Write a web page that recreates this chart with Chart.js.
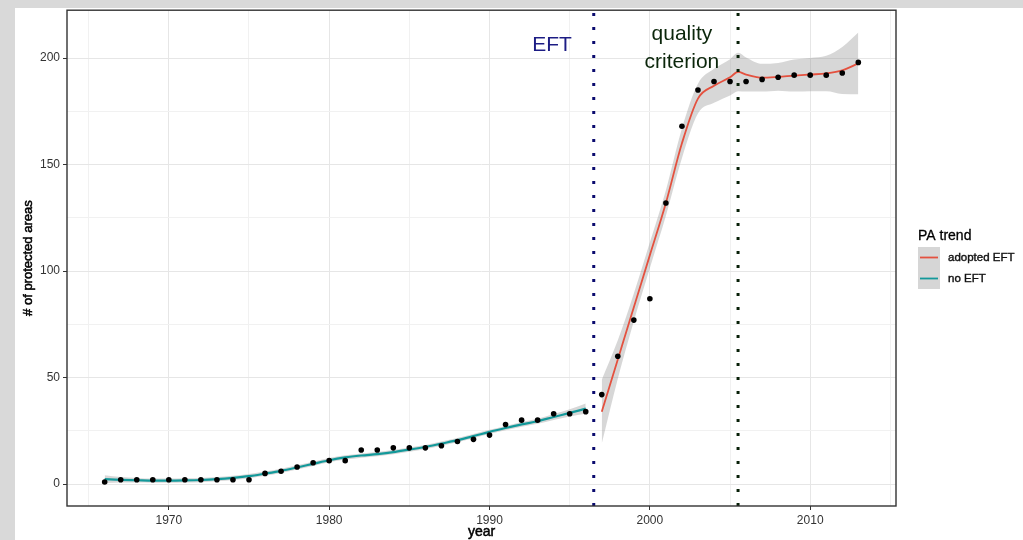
<!DOCTYPE html>
<html>
<head>
<meta charset="utf-8">
<script src="https://cdn.jsdelivr.net/npm/chart.js@4.4.1/dist/chart.umd.min.js"></script>
<style>
  html, body { margin: 0; padding: 0; background: #fff; overflow: hidden; }
  #wrap { width: 1023px; height: 540px; }
</style>
</head>
<body>
<div id="wrap"><canvas id="paChart" width="1023" height="540"></canvas></div>
<script>
// observed counts per year
const years = [1966, 1967, 1968, 1969, 1970, 1971, 1972, 1973, 1974, 1975,
  1976, 1977, 1978, 1979, 1980, 1981, 1982, 1983, 1984, 1985,
  1986, 1987, 1988, 1989, 1990, 1991, 1992, 1993, 1994, 1995,
  1996, 1997, 1998, 1999, 2000, 2001, 2002, 2003, 2004, 2005,
  2006, 2007, 2008, 2009, 2010, 2011, 2012, 2013];
const protectedAreas = [1, 2, 2, 2, 2, 2, 2, 2, 2, 2,
  5, 6, 8, 10, 11, 11, 16, 16, 17, 17,
  17, 18, 20, 21, 23, 28, 30, 30, 33, 33,
  34, 42, 60, 77, 87, 132, 168, 185, 189, 189,
  189, 190, 191, 192, 192, 192, 193, 198];

// smoothed trend before EFT
const noEftYears = [1966, 1967, 1968, 1969, 1970, 1971, 1972, 1973, 1974, 1975,
  1976, 1977, 1978, 1979, 1980, 1981, 1982, 1983, 1984, 1985,
  1986, 1987, 1988, 1989, 1990, 1991, 1992, 1993, 1994, 1995, 1996];
const noEftFit = [2.3, 2.0, 1.8, 1.6, 1.6, 1.7, 1.9, 2.3, 2.9, 3.7,
  4.9, 6.2, 7.8, 9.5, 11.2, 12.5, 13.4, 14.1, 15.0, 16.2,
  17.4, 19.0, 20.6, 22.5, 24.5, 26.3, 28.0, 29.5, 31.5, 33.4, 35.4];
const noEftSe = [1.8, 1.3, 1.1, 1.0, 1.0, 1.0, 1.0, 1.0, 1.0, 1.0,
  1.0, 1.0, 1.0, 1.0, 1.0, 1.0, 1.0, 1.0, 1.0, 1.0,
  1.0, 1.0, 1.0, 1.0, 1.0, 1.0, 1.1, 1.2, 1.4, 1.7, 2.4];

// smoothed trend after EFT
const adoptedYears = [1997, 1998, 1999, 2000, 2001, 2002, 2003, 2004, 2005, 2005.5,
  2006, 2007, 2008, 2009, 2010, 2011, 2012, 2013];
const adoptedFit = [34, 58.5, 83, 107.5, 132, 160, 181, 187, 191, 193.5,
  192.3, 190.8, 191.2, 191.8, 192.3, 192.8, 194.2, 197.5];
const adoptedSe = [15, 9, 6.5, 6, 6, 7, 7, 8, 8.5, 9,
  8, 6.5, 6.5, 7.5, 7.8, 8.3, 11, 14.5];

// reference lines
const eftYear = 1996.5;
const qualityYear = 2005.5;

// axes
const xRange = [1963.65, 2015.35];
const yRange = [-10.3, 222.5];
const xGridYears = [1965, 1970, 1975, 1980, 1985, 1990, 1995, 2000, 2005, 2010, 2015];
const xLabelYears = [1970, 1980, 1990, 2000, 2010];
const yGridValues = [0, 25, 50, 75, 100, 125, 150, 175, 200];
const yLabelValues = [0, 50, 100, 150, 200];

const legendLabels = ['adopted EFT', 'no EFT'];

const RED = '#e4513f';
const TEAL = '#13999a';
const BAND = 'rgba(150,150,150,0.38)';
const FONT = '"Liberation Sans", Arial, sans-serif';

const toXY = (xs, ys) => xs.map((x, i) => ({ x: x, y: ys[i] }));
const offset = (xs, ys, se, sign) => xs.map((x, i) => ({ x: x, y: ys[i] + sign * se[i] }));

const annotations = [
  { lines: ['EFT'], x: 1993.9, y: 206, color: '#1c1c84' },
  { lines: ['quality', 'criterion'], x: 2002.0, y: 211, color: '#0b260b' }
];

// slightly heavier text, the reference is a soft, blurred render
function heavyText(ctx, text, x, y, weight) {
  ctx.lineWidth = weight;
  ctx.strokeStyle = ctx.fillStyle;
  ctx.strokeText(text, x, y);
  ctx.fillText(text, x, y);
}

const framePlugin = {
  id: 'frame',
  beforeDraw(chart) {
    const ctx = chart.ctx;
    ctx.save();
    ctx.fillStyle = '#d9d9d9';
    ctx.fillRect(0, 0, chart.width, chart.height);
    ctx.fillStyle = '#ffffff';
    ctx.fillRect(15, 8, chart.width - 15, chart.height - 8);
    ctx.restore();
  },
  afterDatasetsDraw(chart) {
    const { ctx, chartArea: a, scales } = chart;
    ctx.save();
    // panel border
    ctx.strokeStyle = '#333333';
    ctx.lineWidth = 1.4;
    ctx.strokeRect(a.left, a.top, a.right - a.left, a.bottom - a.top);

    // annotations
    ctx.font = '21px ' + FONT;
    ctx.textAlign = 'center';
    ctx.textBaseline = 'middle';
    annotations.forEach(n => {
      const px = scales.x.getPixelForValue(n.x);
      const py = scales.y.getPixelForValue(n.y);
      ctx.fillStyle = n.color;
      n.lines.forEach((t, i) => ctx.fillText(t, px, py + i * 28));
    });

    // axis titles
    ctx.fillStyle = '#000';
    ctx.font = '14px ' + FONT;
    heavyText(ctx, 'year', (a.left + a.right) / 2, 532, 0.5);
    ctx.save();
    ctx.translate(28, (a.top + a.bottom) / 2);
    ctx.rotate(-Math.PI / 2);
    ctx.font = '13px ' + FONT;
    heavyText(ctx, '# of protected areas', 0, 0, 0.5);
    ctx.restore();

    // legend
    ctx.textAlign = 'left';
    ctx.font = '14px ' + FONT;
    ctx.fillStyle = '#000';
    heavyText(ctx, 'PA trend', 918, 236, 0.3);
    const keyColors = [RED, TEAL];
    legendLabels.forEach((label, i) => {
      const top = 247 + i * 21;
      ctx.fillStyle = '#d6d6d6';
      ctx.fillRect(918, top, 22, 21);
      ctx.strokeStyle = keyColors[i];
      ctx.lineWidth = 1.8;
      ctx.beginPath();
      ctx.moveTo(920, top + 10.5);
      ctx.lineTo(938, top + 10.5);
      ctx.stroke();
      ctx.fillStyle = '#111';
      ctx.font = '11.5px ' + FONT;
      heavyText(ctx, label, 948, top + 10.5, 0.4);
    });
    ctx.restore();
  }
};

const gridColor = major => ctx => (major.includes(ctx.tick.value) ? '#e6e6e6' : '#f1f1f1');
const tickColor = major => ctx => (major.includes(ctx.tick.value) ? '#333333' : 'rgba(0,0,0,0)');

new Chart(document.getElementById('paChart'), {
  type: 'scatter',
  data: {
    datasets: [
      { type: 'line', data: offset(adoptedYears, adoptedFit, adoptedSe, 1), fill: '+1',
        backgroundColor: BAND, borderWidth: 0, pointRadius: 0, cubicInterpolationMode: 'monotone', order: 5 },
      { type: 'line', data: offset(adoptedYears, adoptedFit, adoptedSe, -1), fill: false,
        borderWidth: 0, pointRadius: 0, cubicInterpolationMode: 'monotone', order: 5 },
      { type: 'line', data: offset(noEftYears, noEftFit, noEftSe, 1), fill: '+1',
        backgroundColor: BAND, borderWidth: 0, pointRadius: 0, cubicInterpolationMode: 'monotone', order: 5 },
      { type: 'line', data: offset(noEftYears, noEftFit, noEftSe, -1), fill: false,
        borderWidth: 0, pointRadius: 0, cubicInterpolationMode: 'monotone', order: 5 },
      { type: 'line', label: legendLabels[0], data: toXY(adoptedYears, adoptedFit), borderColor: RED,
        borderWidth: 1.8, pointRadius: 0, fill: false, cubicInterpolationMode: 'monotone', order: 3 },
      { type: 'line', label: legendLabels[1], data: toXY(noEftYears, noEftFit), borderColor: TEAL,
        borderWidth: 2.2, pointRadius: 0, fill: false, cubicInterpolationMode: 'monotone', order: 3 },
      { type: 'line', data: [{ x: eftYear, y: yRange[0] }, { x: eftYear, y: yRange[1] }],
        borderColor: '#0a0a6e', borderWidth: 3, borderDash: [3, 11], borderCapStyle: 'butt',
        pointRadius: 0, fill: false, order: 2 },
      { type: 'line', data: [{ x: qualityYear, y: yRange[0] }, { x: qualityYear, y: yRange[1] }],
        borderColor: '#071f07', borderWidth: 3, borderDash: [3, 11], borderCapStyle: 'butt',
        pointRadius: 0, fill: false, order: 2 },
      { data: toXY(years, protectedAreas), backgroundColor: '#000', borderWidth: 0,
        pointRadius: 2.8, order: 1 }
    ]
  },
  options: {
    responsive: false,
    animation: false,
    events: [],
    layout: { padding: { left: 15, top: 9, right: 127, bottom: 0 } },
    plugins: { legend: { display: false }, tooltip: { enabled: false } },
    scales: {
      x: {
        type: 'linear', min: xRange[0], max: xRange[1],
        afterBuildTicks: s => { s.ticks = xGridYears.map(v => ({ value: v })); },
        afterFit: s => { s.height = 34; },
        border: { display: false },
        grid: { color: gridColor(xLabelYears), lineWidth: 1, tickLength: 4,
                tickColor: tickColor(xLabelYears), tickWidth: 1 },
        ticks: { autoSkip: false, maxRotation: 0, padding: 3, color: '#333',
                 font: { family: FONT, size: 12 },
                 callback: v => (xLabelYears.includes(v) ? String(v) : '') }
      },
      y: {
        type: 'linear', min: yRange[0], max: yRange[1],
        afterBuildTicks: s => { s.ticks = yGridValues.map(v => ({ value: v })); },
        afterFit: s => { s.width = 52; },
        border: { display: false },
        grid: { color: gridColor(yLabelValues), lineWidth: 1, tickLength: 4,
                tickColor: tickColor(yLabelValues), tickWidth: 1 },
        ticks: { autoSkip: false, padding: 3, color: '#333',
                 font: { family: FONT, size: 12 },
                 callback: v => (yLabelValues.includes(v) ? String(v) : '') }
      }
    }
  },
  plugins: [framePlugin]
});
</script>
</body>
</html>
